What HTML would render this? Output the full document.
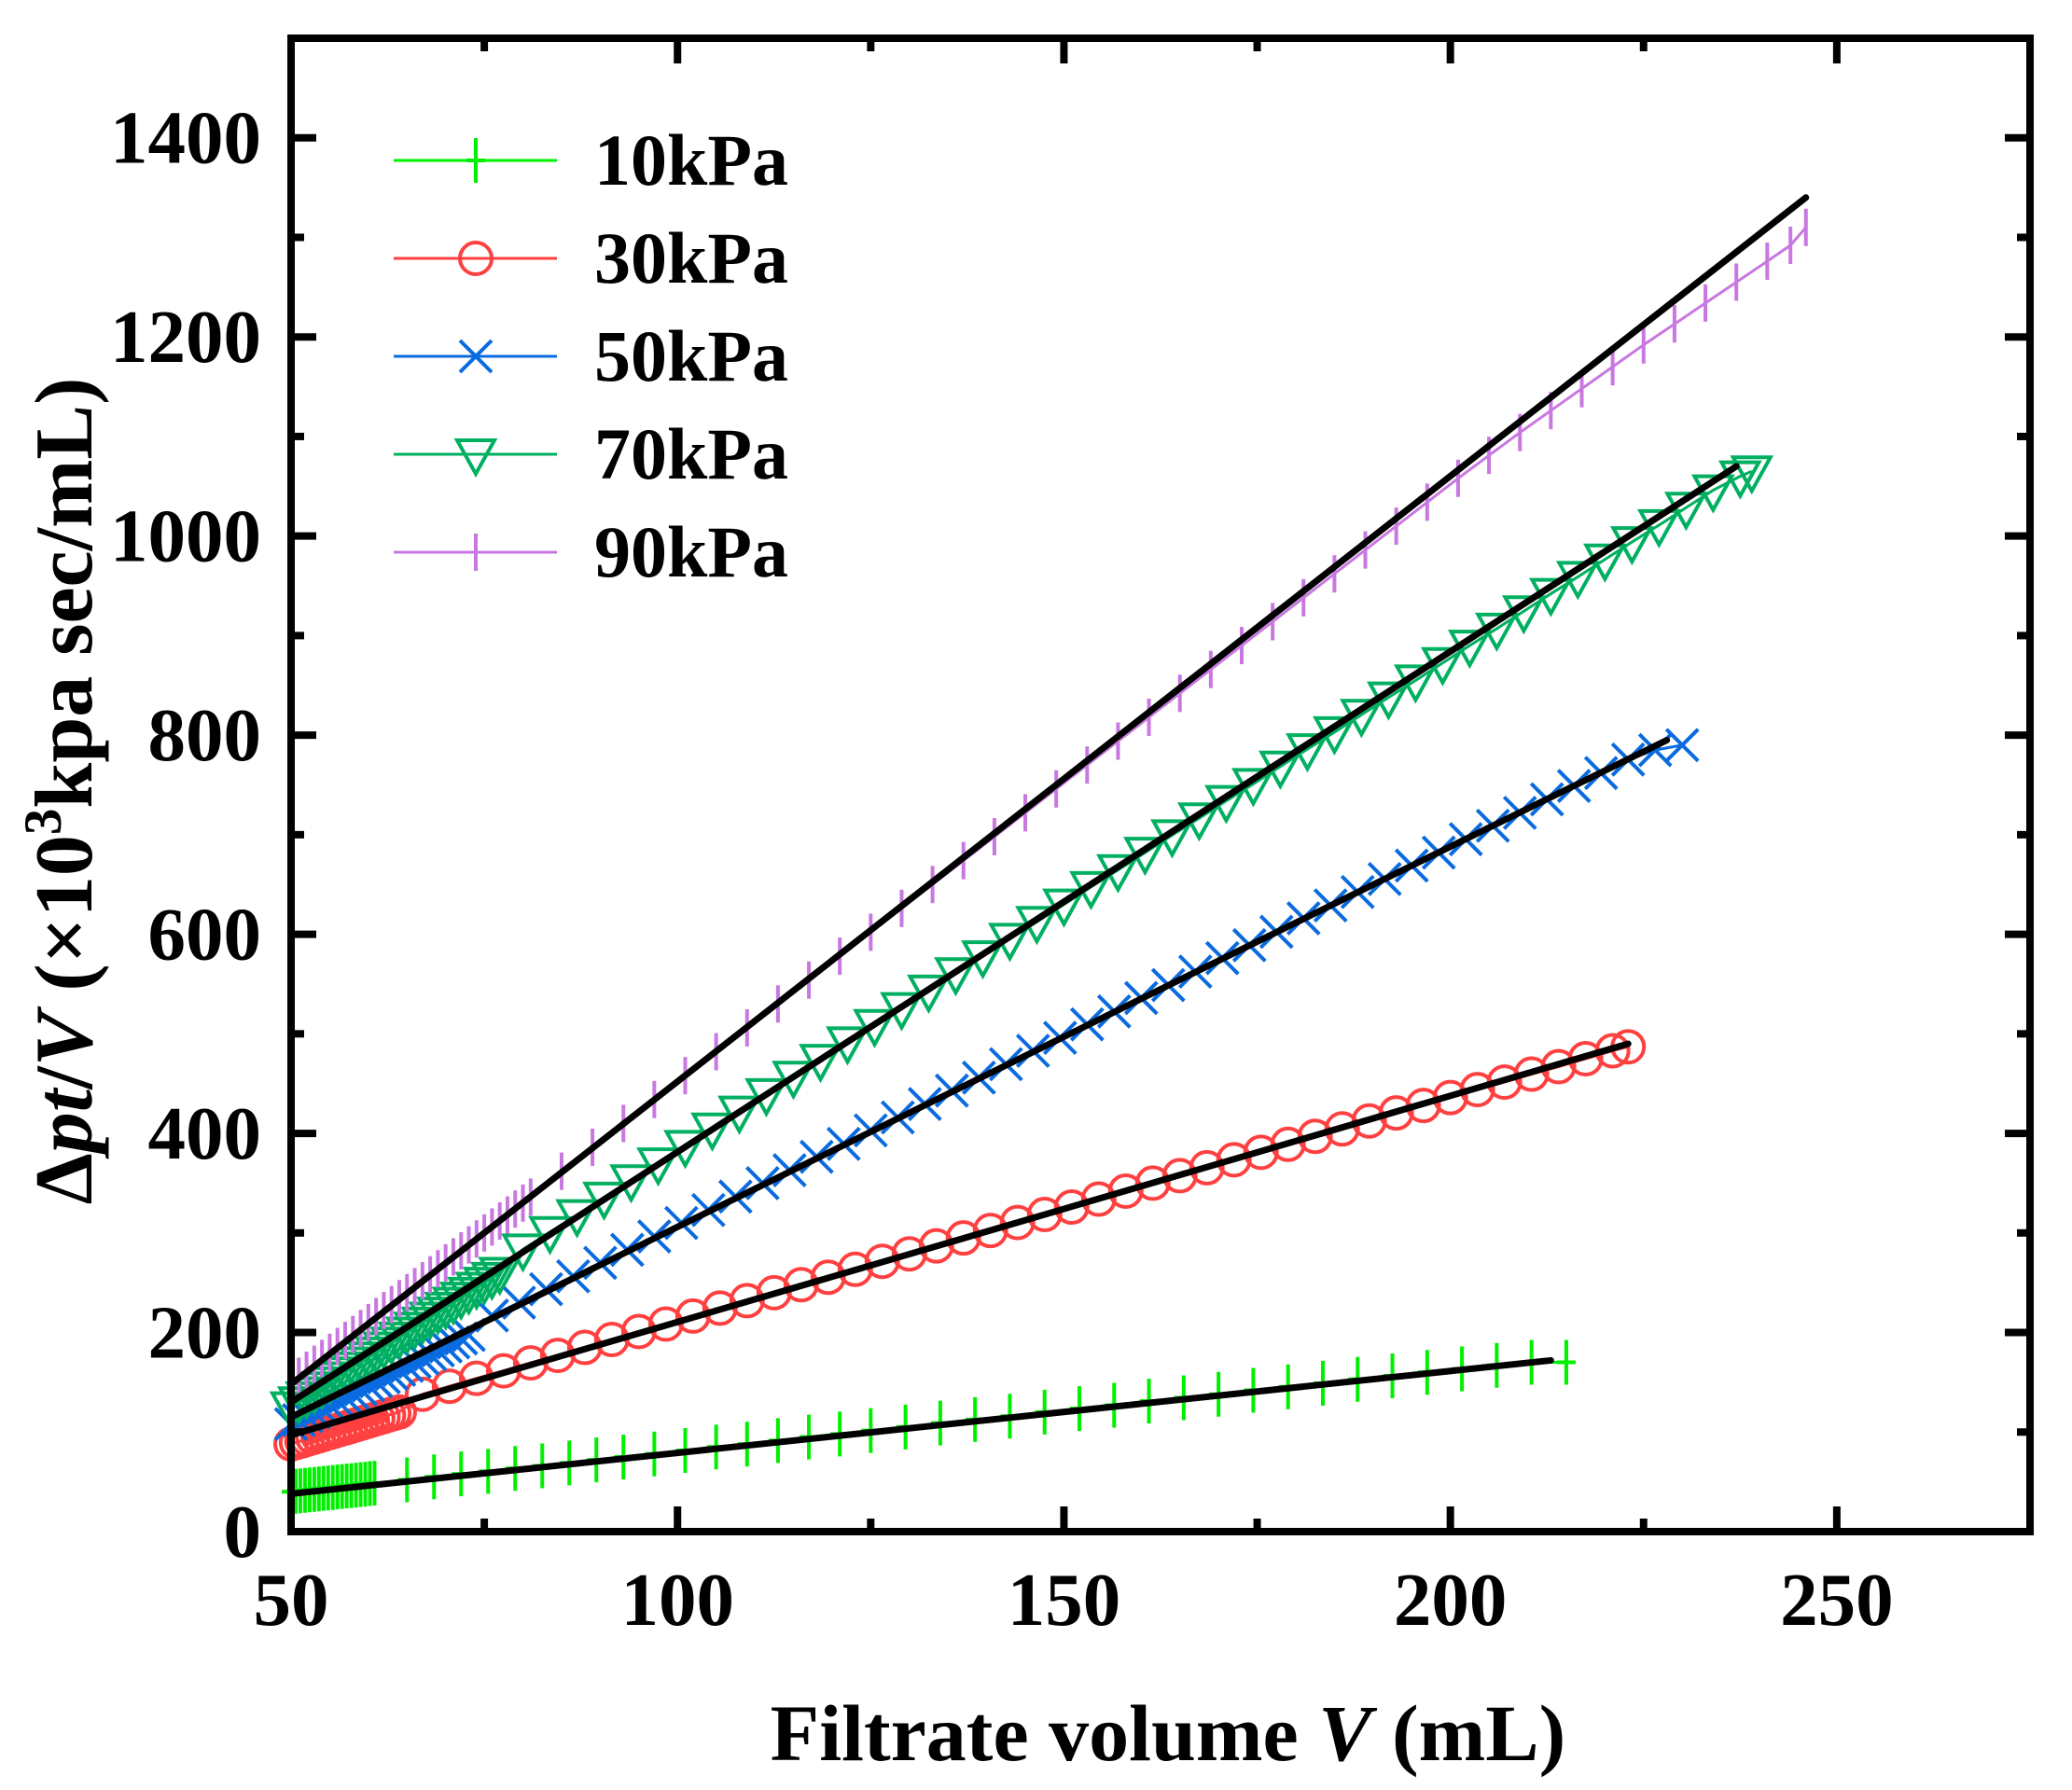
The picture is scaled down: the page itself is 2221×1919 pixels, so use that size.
<!DOCTYPE html>
<html><head><meta charset="utf-8"><style>
html,body{margin:0;padding:0;background:#fff}
svg{display:block}
text{font-family:"Liberation Serif",serif;font-weight:bold;fill:#000}
</style></head><body>
<svg id="chart" width="2221" height="1919" viewBox="0 0 2221 1919" xmlns="http://www.w3.org/2000/svg">
<g id="series"></g>
<g id="fits"></g>
<g id="axes"></g>
<g id="legend"></g>
<text x="1252" y="1887" font-size="86" text-anchor="middle">Filtrate volume <tspan font-style="italic">V</tspan> (mL)</text>
<text transform="translate(98,848) rotate(-90)" font-size="88" text-anchor="middle">Δ<tspan font-style="italic">pt</tspan>/<tspan font-style="italic">V</tspan> (×10<tspan font-size="57" dy="-33">3</tspan><tspan dy="33">kpa sec/mL)</tspan></text>
</svg>
<script>
const xTicks=[50,100,150,200,250];
const yTicks=[0,200,400,600,800,1000,1200,1400];
const seriesNames=["10kPa","30kPa","50kPa","70kPa","90kPa"];
const x10=[50,50.6,51.2,51.8,52.4,53,53.6,54.2,54.8,55.4,56,56.6,57.2,57.8,58.4,59,59.6,60.2,60.8,65,68.5,72,75.5,79,82.5,86,89.5,93,97,101,105,109,113,117,121,125,129.5,134,138.5,143,147.5,152,156.5,161,165.5,170,174.5,179,183.5,188,192.5,197,201.5,206,210.5,215];
const y10=[40,40.5,41,41.4,41.9,42.4,42.9,43.4,43.8,44.3,44.8,45.3,45.8,46.2,46.7,47.2,47.7,48.2,48.6,52,55,58,60.5,63.5,66,69,72,75,78,81.5,85,88,91.5,95,98,101.5,105,109,112.5,116,120,123.5,127,131,134.5,138,142,145.5,149,153,156.5,160,163.5,167,170,170];
const x30=[50,50.7,51.4,52.1,52.8,53.5,54.2,54.9,55.6,56.3,57,57.7,58.4,59.1,59.8,60.5,61.2,61.9,62.6,63.3,64,67,70.5,74,77.5,81,84.5,88,91.5,95,98.5,102,105.5,109,112.5,116,119.5,123,126.5,130,133.5,137,140.5,144,147.5,151,154.5,158,161.5,165,168.5,172,175.5,179,182.5,186,189.5,193,196.5,200,203.5,207,210.5,214,217.5,221,223];
const y30=[88,89.6,91.2,92.8,94.4,96,97.7,99.3,100.9,102.5,104.1,105.7,107.3,108.9,110.5,112.2,113.8,115.4,117,118.6,120.2,138,146,154,161.5,169.5,177,185,193,201,208.5,216.5,224.5,232,240,248,255.5,263.5,271.5,279,287,295,302.5,310.5,318.5,326,334,342,350,357.5,365.5,373.5,381,389,397,404.5,412.5,420.5,428,436,444,451.5,459.5,467,475,483,487];
const x50=[50,51,52,53,54,55,56,57,58,59,60,61,62,63,64,65,66,67,68,69,70,71,72,73,76,79.5,83,86.5,90,93.5,97,100.5,104,107.5,111,114.5,118,121.5,125,128.5,132,135.5,139,142.5,146,149.5,153,156.5,160,163.5,167,170.5,174,177.5,181,184.5,188,191.5,195,198.5,202,205.5,209,212.5,216,219.5,223,226.5,230];
const y50=[108,112,116,120,124,127.5,131.5,135.5,139,143,147,151,155,158.5,162.5,166.5,170.5,174,178,182,186,190,194,197.5,217,230,243.5,256.5,270,283,296.5,310,323,336.5,350,363,376.5,389.5,403,416,429.5,443,456,469.5,483,496,509.5,522.5,536,549,562.5,576,589,602.5,616,629,642.5,655.5,669,682,695.5,709,722,735.5,749,762,775.5,785,790];
const x70=[50,51,52,53,54,55,56,57,58,59,60,61,62,63,64,65,66,67,68,69,70,71,72,73,74,75,76,77,80,83.5,87,90.5,94,97.5,101,104.5,108,111.5,115,118.5,122,125.5,129,132.5,136,139.5,143,146.5,150,153.5,157,160.5,164,167.5,171,174.5,178,181.5,185,188.5,192,195.5,199,202.5,206,209.5,213,216.5,220,223.5,227,230.5,234,237.5,239];
const y70=[125,130,135,140,145,150,155,160,165,170,175,180,185,190,195,200,205,210,215,220,225,230,235,240,245,250,255,260,283.5,301,318,335.5,353,370,387.5,405,422,439.5,457,474,491.5,509,526,543.5,561,578,595.5,612.5,630,647.5,664.5,682,699.5,716.5,734,751,768.5,786,803,820.5,838,855,872.5,890,907,924.5,942,959,976.5,994,1011,1028.5,1046,1060,1065];
const x90=[50,51,52,53,54,55,56,57,58,59,60,61,62,63,64,65,66,67,68,69,70,71,72,73,74,75,76,77,78,79,80,81,85,89,93,97,101,105,109,113,117,121,125,129,133,137,141,145,149,153,157,161,165,169,173,177,181,185,189,193,197,201,205,209,213,217,221,225,229,233,237,241,244,246];
const y90=[150,156,162,168,174,180,186,192,198,204,210,216,222,228,234,240,246,252,258,264,270,276,282,288,294,300,306,312,318,324,330,336,362,386,410,434,458,482,506,530,554,578,602,626,650,674,698,722,746,770,794,818,842,866,890,914,938,962,986,1010,1034,1058,1081,1104,1126,1148,1170,1192,1213,1234,1255,1276,1292,1310];
const fitX0=[50,50,50,50,50];
const fitX1=[213,223,228,237,246];
const fitY0=[38,97,115,130,148];
const fitY1=[172,490,795,1070,1340];
const colors=["#00f000","#ff4040","#0a6be0","#00b060","#c878e0"];
const markers=["plus","circle","cross","tri","bar"];

const NS="http://www.w3.org/2000/svg";
const L=312,R=2176,T=41,B=1642;
function xs(v){return L+(v-50)*(R-L)/225;}
function ys(v){return B-v*(B-T)/1500;}
function mk(tag,attrs,parent){const e=document.createElementNS(NS,tag);for(const k in attrs)e.setAttribute(k,attrs[k]);parent.appendChild(e);return e;}

function drawMarker(type,cx,cy,color,parent){
  let e;
  if(type==="plus"){e=mk("path",{d:`M${cx},${cy-24}V${cy+24}M${cx-10},${cy}H${cx+10}`,stroke:color,"stroke-width":4,fill:"none"},parent);}
  else if(type==="circle"){e=mk("circle",{cx:cx,cy:cy,r:17,stroke:color,"stroke-width":4,fill:"none"},parent);}
  else if(type==="cross"){e=mk("path",{d:`M${cx-17},${cy-17}L${cx+17},${cy+17}M${cx-17},${cy+17}L${cx+17},${cy-17}`,stroke:color,"stroke-width":4,fill:"none"},parent);}
  else if(type==="tri"){e=mk("path",{d:`M${cx-20},${cy-15}H${cx+20}L${cx},${cy+21}Z`,stroke:color,"stroke-width":4,fill:"none"},parent);}
  else {e=mk("path",{d:`M${cx},${cy-20}V${cy+20}`,stroke:color,"stroke-width":4,fill:"none"},parent);}
  return e;
}

const sg=document.getElementById("series");
const allX=[x10,x30,x50,x70,x90], allY=[y10,y30,y50,y70,y90];
for(let s=0;s<5;s++){
  const g=mk("g",{},sg);
  
  
  const pts=allX[s].map((x,i)=>xs(x)+","+ys(allY[s][i])).join(" ");
  const pl=mk("polyline",{points:pts,stroke:colors[s],"stroke-width":3,fill:"none"},g);
  
  
  for(let i=0;i<allX[s].length;i++){
    const m=drawMarker(markers[s],xs(allX[s][i]),ys(allY[s][i]),colors[s],g);
    
    
  }
}
const fg=document.getElementById("fits");
for(let s=0;s<5;s++){
  const l=mk("line",{x1:xs(fitX0[s]),y1:ys(fitY0[s]),x2:xs(fitX1[s]),y2:ys(fitY1[s]),stroke:"#000","stroke-width":7,"stroke-linecap":"round"},fg);
  
  
}
const ag=document.getElementById("axes");
const frame=mk("rect",{x:L,y:T,width:R-L,height:B-T,fill:"none",stroke:"#000","stroke-width":8},ag);


for(let v=50;v<=275;v+=25){
  const maj=(v%50===0), len=maj?27:14;
  mk("line",{x1:xs(v),y1:B,x2:xs(v),y2:B-len,stroke:"#000","stroke-width":8},ag);
  mk("line",{x1:xs(v),y1:T,x2:xs(v),y2:T+len,stroke:"#000","stroke-width":8},ag);
}
for(let v=0;v<=1500;v+=100){
  const maj=(v%200===0), len=maj?27:14;
  mk("line",{x1:L,y1:ys(v),x2:L+len,y2:ys(v),stroke:"#000","stroke-width":8},ag);
  mk("line",{x1:R,y1:ys(v),x2:R-len,y2:ys(v),stroke:"#000","stroke-width":8},ag);
}
xTicks.forEach(v=>{
  const t=mk("text",{x:xs(v),y:1742,"font-size":81,"text-anchor":"middle"},ag);
  t.textContent=v;
  
  
});
yTicks.forEach(v=>{
  const t=mk("text",{x:280,y:ys(v)+27,"font-size":81,"text-anchor":"end"},ag);
  t.textContent=v;
  
  
});
const lg=document.getElementById("legend");
for(let s=0;s<5;s++){
  const y=172+s*105;
  const g=mk("g",{},lg);
  
  
  mk("line",{x1:422,y1:y,x2:597,y2:y,stroke:colors[s],"stroke-width":3},g);
  drawMarker(markers[s],510,y,colors[s],g);
  const t=mk("text",{x:637,y:y+26,"font-size":78},g);
  t.textContent=seriesNames[s];
}
</script>
</body></html>
